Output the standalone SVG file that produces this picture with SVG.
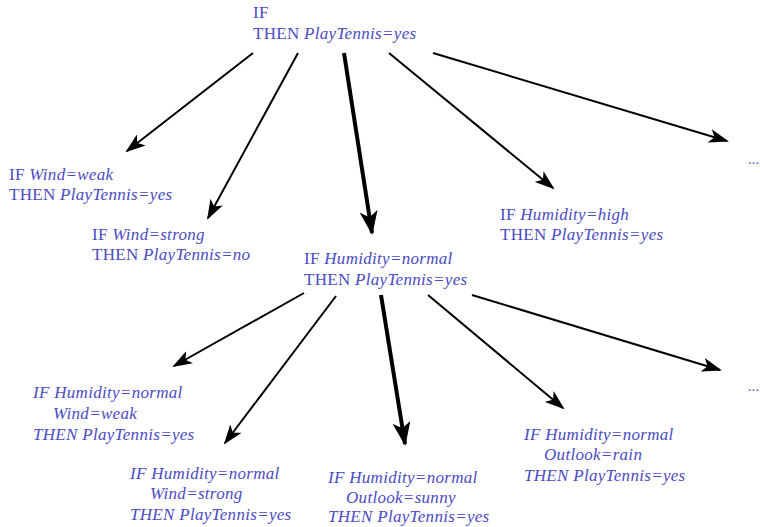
<svg xmlns="http://www.w3.org/2000/svg" width="760" height="527" viewBox="0 0 760 527">
<style>
text{font-family:"Liberation Serif","DejaVu Serif",serif;font-size:17px;letter-spacing:0.3px;fill:#4b4bc3}
.i{font-style:italic}
.c line{stroke:#000;stroke-width:2}
.c line.t{stroke-width:4}
</style>
<defs>
<marker id="a" markerUnits="userSpaceOnUse" markerWidth="20" markerHeight="14" refX="18" refY="7" orient="auto" viewBox="0 0 20 14"><path d="M0,0 L20,7 L0,14 L5,7 Z" fill="#000"/></marker>
<marker id="b" markerUnits="userSpaceOnUse" markerWidth="24" markerHeight="18" refX="22" refY="9" orient="auto" viewBox="0 0 24 18"><path d="M0,0 L24,9 L0,18 L6,9 Z" fill="#000"/></marker>
</defs>
<g class="c" id="connectors">
<line x1="253" y1="53" x2="127" y2="151" marker-end="url(#a)"/>
<line x1="298" y1="53" x2="208" y2="218" marker-end="url(#a)"/>
<line class="t" x1="344" y1="53" x2="372" y2="233" marker-end="url(#b)"/>
<line x1="389" y1="53" x2="553" y2="188" marker-end="url(#a)"/>
<line x1="433" y1="53" x2="727" y2="141" marker-end="url(#a)"/>
<line x1="304" y1="293" x2="174" y2="366" marker-end="url(#a)"/>
<line x1="336" y1="296" x2="225" y2="443" marker-end="url(#a)"/>
<line class="t" x1="381" y1="295" x2="405" y2="444" marker-end="url(#b)"/>
<line x1="428" y1="295" x2="563" y2="408" marker-end="url(#a)"/>
<line x1="472" y1="295" x2="720" y2="370" marker-end="url(#a)"/>
</g>
<g id="root"><text x="253" y="18">IF</text><text x="253" y="39">THEN <tspan class="i">PlayTennis=yes</tspan></text></g>
<g id="wind-weak"><text x="9" y="180">IF <tspan class="i">Wind=weak</tspan></text><text x="9" y="200">THEN <tspan class="i">PlayTennis=yes</tspan></text></g>
<g id="wind-strong"><text x="92" y="240">IF <tspan class="i">Wind=strong</tspan></text><text x="92" y="260">THEN <tspan class="i">PlayTennis=no</tspan></text></g>
<g id="hum-normal"><text x="304" y="264">IF <tspan class="i">Humidity=normal</tspan></text><text x="304" y="285">THEN <tspan class="i">PlayTennis=yes</tspan></text></g>
<g id="hum-high"><text x="500" y="220">IF <tspan class="i">Humidity=high</tspan></text><text x="500" y="240">THEN <tspan class="i">PlayTennis=yes</tspan></text></g>
<g id="more1"><text x="748" y="164" style="font-size:14px">...</text></g>
<g id="more2"><text x="748" y="391" style="font-size:14px">...</text></g>
<g id="hn-wind-weak"><text class="i" x="33" y="398">IF Humidity=normal</text><text class="i" x="53" y="419">Wind=weak</text><text class="i" x="33" y="440">THEN PlayTennis=yes</text></g>
<g id="hn-wind-strong"><text class="i" x="130" y="479">IF Humidity=normal</text><text class="i" x="150" y="499">Wind=strong</text><text class="i" x="130" y="520">THEN PlayTennis=yes</text></g>
<g id="hn-outlook-sunny"><text class="i" x="328" y="483">IF Humidity=normal</text><text class="i" x="346" y="503">Outlook=sunny</text><text class="i" x="328" y="522">THEN PlayTennis=yes</text></g>
<g id="hn-outlook-rain"><text class="i" x="524" y="440">IF Humidity=normal</text><text class="i" x="544" y="460">Outlook=rain</text><text class="i" x="524" y="481">THEN PlayTennis=yes</text></g>
</svg>
